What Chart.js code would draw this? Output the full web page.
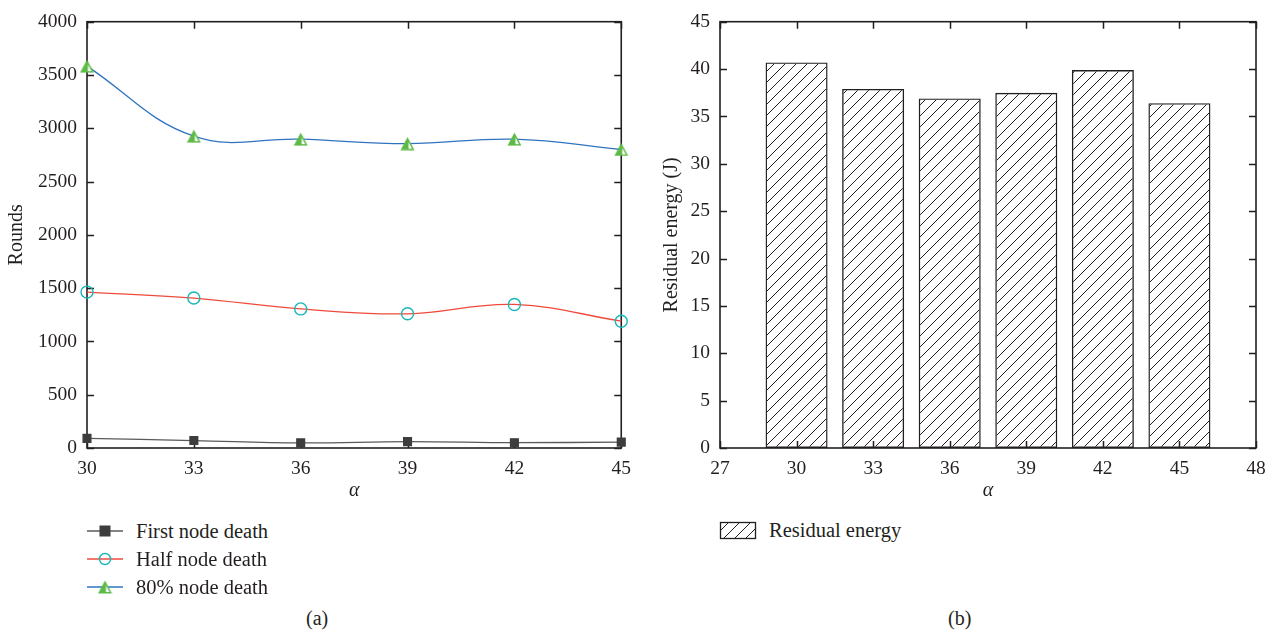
<!DOCTYPE html>
<html>
<head>
<meta charset="utf-8">
<title>Rounds and residual energy vs alpha</title>
<script src="https://cdn.jsdelivr.net/npm/chart.js@4.4.1/dist/chart.umd.min.js"></script>
<style>
    html, body { margin: 0; padding: 0; background: #fff; }
    body {
        width: 1277px; height: 637px; position: relative; overflow: hidden;
        font-family: "Liberation Serif", "DejaVu Serif", serif; color: #231f20;
    }
    .wrap { position: absolute; top: 0; }
    #wrapA { left: 0; }
    #wrapB { left: 640px; }
    .legend-row {
        position: absolute; height: 24px; display: flex; align-items: center;
        font-size: 20.5px; white-space: nowrap;
    }
    .legend-row canvas { margin-right: 12px; }
    .caption { position: absolute; top: 607px; font-size: 20px; }
</style>
</head>
<body>
<div class="wrap" id="wrapA"><canvas id="chartA" width="640" height="505"></canvas></div>
<div class="wrap" id="wrapB"><canvas id="chartB" width="637" height="505"></canvas></div>

<div class="legend-row" style="left:86px; top:519px;"><canvas id="legFirst" width="38" height="16"></canvas>First node death</div>
<div class="legend-row" style="left:86px; top:547px;"><canvas id="legHalf" width="38" height="16"></canvas>Half node death</div>
<div class="legend-row" style="left:86px; top:575px;"><canvas id="leg80" width="38" height="16"></canvas>80% node death</div>

<div class="legend-row" style="left:719px; top:518px;"><canvas id="legEnergy" width="38" height="19"></canvas>Residual energy</div>

<div class="caption" style="left:306px;">(a)</div>
<div class="caption" style="left:948px;">(b)</div>

<script>
// --- data ---
const alphaValues = [30, 33, 36, 39, 42, 45];
const firstNodeDeath = [90, 70, 48, 60, 50, 55];
const halfNodeDeath = [1463, 1407, 1305, 1259, 1347, 1190];
const node80Death = [3583, 2926, 2898, 2856, 2898, 2801];
const residualEnergy = [40.7, 37.9, 36.9, 37.5, 39.9, 36.4];

const roundsTicks = [0, 500, 1000, 1500, 2000, 2500, 3000, 3500, 4000];
const alphaTicksA = [30, 33, 36, 39, 42, 45];
const energyTicks = [0, 5, 10, 15, 20, 25, 30, 35, 40, 45];
const alphaTicksB = [27, 30, 33, 36, 39, 42, 45, 48];

const INK = '#231f20';
const FONT = '"Liberation Serif", "DejaVu Serif", serif';

const COLORS = {
    first: '#3d3d3d',
    firstLine: '#5a5a5a',
    halfLine: '#ef4a3c',
    halfMarker: '#19b5b8',
    line80: '#2f74c0',
    marker80: '#5dba47'
};

// green triangle with a light right half
function triangleMarker() {
    const c = document.createElement('canvas');
    c.width = 15; c.height = 14;
    const g = c.getContext('2d');
    g.beginPath();
    g.moveTo(7.5, 0.5); g.lineTo(14.5, 13.5); g.lineTo(0.5, 13.5); g.closePath();
    g.fillStyle = COLORS.marker80;
    g.fill();
    g.beginPath();
    g.moveTo(8.5, 5.5); g.lineTo(12, 12); g.lineTo(8.5, 12); g.closePath();
    g.fillStyle = '#fff';
    g.fill();
    return c;
}
const triImg = triangleMarker();

function hatchTile() {
    const s = 11;
    const c = document.createElement('canvas');
    c.width = s; c.height = s;
    const g = c.getContext('2d');
    g.strokeStyle = INK;
    g.lineWidth = 1;
    g.beginPath();
    g.moveTo(-1, s + 1); g.lineTo(s + 1, -1);
    g.moveTo(-1, 1); g.lineTo(1, -1);
    g.moveTo(s - 1, s + 1); g.lineTo(s + 1, s - 1);
    g.stroke();
    return c;
}

function toPoints(xs, ys) {
    return xs.map((x, i) => ({ x: x, y: ys[i] }));
}

function fixedTicks(list) {
    return scale => { scale.ticks = list.map(v => ({ value: v })); };
}

const plainNumber = v => String(v);

// box around the plot area with inward ticks on all four sides
function framePlugin(hook) {
    const p = { id: 'frame_' + hook };
    p[hook] = chart => {
        const { ctx, chartArea: a, scales } = chart;
        const len = 7;
        ctx.save();
        ctx.strokeStyle = INK;
        ctx.lineWidth = 1.5;
        ctx.beginPath();
        scales.x.ticks.forEach(t => {
            const px = Math.round(scales.x.getPixelForValue(t.value)) + 0.5;
            ctx.moveTo(px, a.bottom); ctx.lineTo(px, a.bottom - len);
            ctx.moveTo(px, a.top); ctx.lineTo(px, a.top + len);
        });
        scales.y.ticks.forEach(t => {
            const py = Math.round(scales.y.getPixelForValue(t.value)) + 0.5;
            ctx.moveTo(a.left, py); ctx.lineTo(a.left + len, py);
            ctx.moveTo(a.right, py); ctx.lineTo(a.right - len, py);
        });
        ctx.stroke();
        ctx.lineWidth = 1.6;
        ctx.strokeRect(a.left, a.top, a.right - a.left, a.bottom - a.top);
        ctx.restore();
    };
    return p;
}

const tickFont = { family: FONT, size: 19.5 };
const titleFont = { family: FONT, size: 20 };
const alphaFont = { family: FONT, size: 20, style: 'italic' };

// (a) rounds vs alpha
new Chart(document.getElementById('chartA'), {
    type: 'line',
    data: {
        datasets: [
            {
                label: 'First node death',
                data: toPoints(alphaValues, firstNodeDeath),
                borderColor: COLORS.firstLine,
                borderWidth: 1.3,
                pointStyle: 'rect',
                pointRadius: 5.5,
                pointBackgroundColor: COLORS.first,
                pointBorderColor: COLORS.first,
                tension: 0.4,
                clip: false
            },
            {
                label: 'Half node death',
                data: toPoints(alphaValues, halfNodeDeath),
                borderColor: COLORS.halfLine,
                borderWidth: 1.3,
                pointStyle: 'circle',
                pointRadius: 6,
                pointBorderWidth: 1.4,
                pointBackgroundColor: 'rgba(0,0,0,0)',
                pointBorderColor: COLORS.halfMarker,
                tension: 0.4,
                clip: false
            },
            {
                label: '80% node death',
                data: toPoints(alphaValues, node80Death),
                borderColor: COLORS.line80,
                borderWidth: 1.3,
                pointStyle: triImg,
                tension: 0.4,
                clip: false
            }
        ]
    },
    options: {
        responsive: false,
        animation: false,
        events: [],
        layout: { padding: { top: 16, right: 17, left: 0, bottom: 0 } },
        plugins: { legend: { display: false }, tooltip: { enabled: false } },
        scales: {
            x: {
                type: 'linear', min: 30, max: 45,
                afterBuildTicks: fixedTicks(alphaTicksA),
                afterFit: s => { s.height = 57; },
                grid: { display: false, drawTicks: false },
                border: { display: false },
                ticks: { font: tickFont, color: INK, padding: 9, maxRotation: 0, callback: plainNumber },
                title: { display: true, text: 'α', font: alphaFont, color: INK, padding: { top: 0, bottom: 2 } }
            },
            y: {
                min: 0, max: 4000,
                afterBuildTicks: fixedTicks(roundsTicks),
                afterFit: s => { s.width = 87; },
                grid: { display: false, drawTicks: false },
                border: { display: false },
                ticks: { font: tickFont, color: INK, padding: 10, callback: plainNumber },
                title: { display: true, text: 'Rounds', font: titleFont, color: INK, padding: { top: 5, bottom: 0 } }
            }
        }
    },
    plugins: [framePlugin('beforeDatasetsDraw')]
});

// (b) residual energy vs alpha
const ctxB = document.getElementById('chartB').getContext('2d');
const hatch = ctxB.createPattern(hatchTile(), 'repeat');

new Chart(ctxB, {
    type: 'bar',
    data: {
        datasets: [{
            label: 'Residual energy',
            data: toPoints(alphaValues, residualEnergy),
            backgroundColor: hatch,
            borderColor: INK,
            borderWidth: 1.4,
            borderSkipped: false,
            barPercentage: 0.81,
            categoryPercentage: 1
        }]
    },
    options: {
        responsive: false,
        animation: false,
        events: [],
        layout: { padding: { top: 16, right: 21, left: 0, bottom: 0 } },
        plugins: { legend: { display: false }, tooltip: { enabled: false } },
        scales: {
            x: {
                type: 'linear', min: 27, max: 48, offset: false,
                afterBuildTicks: fixedTicks(alphaTicksB),
                afterFit: s => { s.height = 57; },
                grid: { display: false, drawTicks: false, offset: false },
                border: { display: false },
                ticks: { font: tickFont, color: INK, padding: 9, maxRotation: 0, callback: plainNumber },
                title: { display: true, text: 'α', font: alphaFont, color: INK, padding: { top: 0, bottom: 2 } }
            },
            y: {
                min: 0, max: 45,
                afterBuildTicks: fixedTicks(energyTicks),
                afterFit: s => { s.width = 80; },
                grid: { display: false, drawTicks: false },
                border: { display: false },
                ticks: { font: tickFont, color: INK, padding: 10, callback: plainNumber },
                title: { display: true, text: 'Residual energy (J)', font: titleFont, color: INK, padding: { top: 20, bottom: 0 } }
            }
        }
    },
    plugins: [framePlugin('afterDatasetsDraw')]
});

// legend symbols
function lineSymbol(id, lineColor, drawMarker) {
    const c = document.getElementById(id);
    const g = c.getContext('2d');
    g.strokeStyle = lineColor;
    g.lineWidth = 1.5;
    g.beginPath();
    g.moveTo(1, 8); g.lineTo(37, 8);
    g.stroke();
    drawMarker(g, 19, 8);
}

lineSymbol('legFirst', COLORS.firstLine, (g, x, y) => {
    g.fillStyle = COLORS.first;
    g.fillRect(x - 5.5, y - 5.5, 11, 11);
});
lineSymbol('legHalf', COLORS.halfLine, (g, x, y) => {
    g.strokeStyle = COLORS.halfMarker;
    g.lineWidth = 1.4;
    g.beginPath();
    g.arc(x, y, 5.5, 0, Math.PI * 2);
    g.stroke();
});
lineSymbol('leg80', COLORS.line80, (g, x, y) => {
    g.drawImage(triImg, x - 7.5, y - 7);
});

(function () {
    const c = document.getElementById('legEnergy');
    const g = c.getContext('2d');
    g.fillStyle = g.createPattern(hatchTile(), 'repeat');
    g.fillRect(1, 1, 36, 17);
    g.strokeStyle = INK;
    g.lineWidth = 1.3;
    g.strokeRect(1.5, 1.5, 35, 16);
})();
</script>
</body>
</html>
